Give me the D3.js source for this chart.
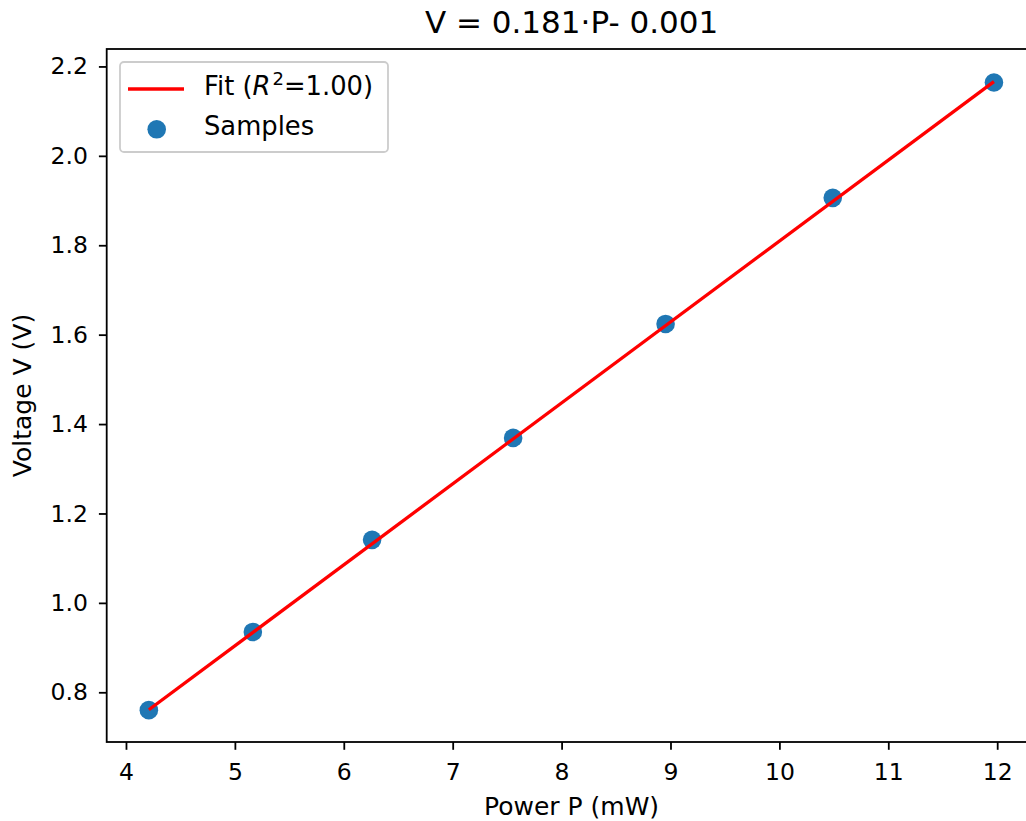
<!DOCTYPE html>
<html>
<head>
<meta charset="utf-8">
<script src="https://cdn.jsdelivr.net/npm/d3@7"></script>
<style>
  body { margin: 0; background: #fff; }
  svg { display: block; font-family: "DejaVu Sans", sans-serif; }
</style>
</head>
<body>
<div id="chart"></div>
<script>
// samples
var power = [4.21, 5.165, 6.26, 7.555, 8.955, 10.49, 11.97];
var voltage = [0.760, 0.935, 1.141, 1.369, 1.624, 1.906, 2.164];

// fit line endpoints (V = 0.181·P - 0.001)
var fitP = [4.21, 11.97];
var fitV = [0.761, 2.166];

var xTicks = [4, 5, 6, 7, 8, 9, 10, 11, 12];
var yTicks = [0.8, 1.0, 1.2, 1.4, 1.6, 1.8, 2.0, 2.2];

var titleText = "V = 0.181·P- 0.001";
var xLabel = "Power P (mW)";
var yLabel = "Voltage V (V)";

var W = 1026, H = 821;
var plotL = 106.7, plotR = 1036.4, plotT = 49, plotB = 742;

var svg = d3.select("#chart").append("svg")
  .attr("width", W)
  .attr("height", H);

var x = d3.scaleLinear().domain([3.823, 12.36]).range([plotL, plotR]);
var y = d3.scaleLinear().domain([0.6888, 2.239]).range([plotB, plotT]);

var line = d3.line()
  .x(function(d) { return x(d[0]); })
  .y(function(d) { return y(d[1]); });

var fitData = fitP.map(function(p, i) { return [p, fitV[i]]; });

// scatter first, fit line on top of it
svg.selectAll("circle.pt")
  .data(power)
  .enter().append("circle")
  .attr("class", "pt")
  .attr("cx", function(d) { return x(d); })
  .attr("cy", function(d, i) { return y(voltage[i]); })
  .attr("r", 9.3)
  .attr("fill", "#1f77b4");

svg.append("path")
  .datum(fitData)
  .attr("d", line)
  .attr("fill", "none")
  .attr("stroke", "#ff0000")
  .attr("stroke-width", 3.3);

// axes
var xAxis = d3.axisBottom(x).tickValues(xTicks).tickSize(7.8).tickPadding(13.5)
  .tickFormat(d3.format("d"));
var yAxis = d3.axisLeft(y).tickValues(yTicks).tickSize(7.8).tickPadding(11)
  .tickFormat(d3.format(".1f"));

var gx = svg.append("g").attr("transform", "translate(0," + plotB + ")").call(xAxis);
var gy = svg.append("g").attr("transform", "translate(" + plotL + ",0)").call(yAxis);

[gx, gy].forEach(function(g) {
  g.select(".domain").remove();
  g.selectAll(".tick line").attr("stroke", "#000").attr("stroke-width", 1.8);
  g.selectAll(".tick text")
    .attr("fill", "#000")
    .style("font-size", "23.5px")
    .style("font-family", "DejaVu Sans");
});

// spines
svg.append("rect")
  .attr("x", plotL).attr("y", plotT)
  .attr("width", plotR - plotL).attr("height", plotB - plotT)
  .attr("fill", "none")
  .attr("stroke", "#000")
  .attr("stroke-width", 1.8);

// title and labels
svg.append("text")
  .attr("x", (plotL + plotR) / 2).attr("y", 33)
  .attr("text-anchor", "middle")
  .style("font-size", "31px")
  .text(titleText);

svg.append("text")
  .attr("x", (plotL + plotR) / 2).attr("y", 815)
  .attr("text-anchor", "middle")
  .style("font-size", "25px")
  .text(xLabel);

svg.append("text")
  .attr("transform", "translate(31," + (plotT + plotB) / 2 + ") rotate(-90)")
  .attr("text-anchor", "middle")
  .style("font-size", "25px")
  .text(yLabel);

// legend
var lg = svg.append("g");
lg.append("rect")
  .attr("x", 120).attr("y", 62)
  .attr("width", 268).attr("height", 90)
  .attr("rx", 4)
  .attr("fill", "#fff").attr("fill-opacity", 0.8)
  .attr("stroke", "#cccccc").attr("stroke-width", 1.8);

lg.append("line")
  .attr("x1", 128).attr("x2", 184)
  .attr("y1", 89).attr("y2", 89)
  .attr("stroke", "#ff0000").attr("stroke-width", 3.3);

var t1 = lg.append("text").attr("x", 204).attr("y", 95).style("font-size", "25.8px");
t1.append("tspan").text("Fit (");
t1.append("tspan").style("font-style", "italic").text("R");
t1.append("tspan").attr("dx", 2).attr("dy", -10).style("font-size", "18px").text("2");
t1.append("tspan").attr("dy", 10).text("=1.00)");

lg.append("circle")
  .attr("cx", 156.7).attr("cy", 129.3).attr("r", 9.3)
  .attr("fill", "#1f77b4");

lg.append("text").attr("x", 204).attr("y", 135)
  .style("font-size", "25.8px")
  .text("Samples");
</script>
</body>
</html>
